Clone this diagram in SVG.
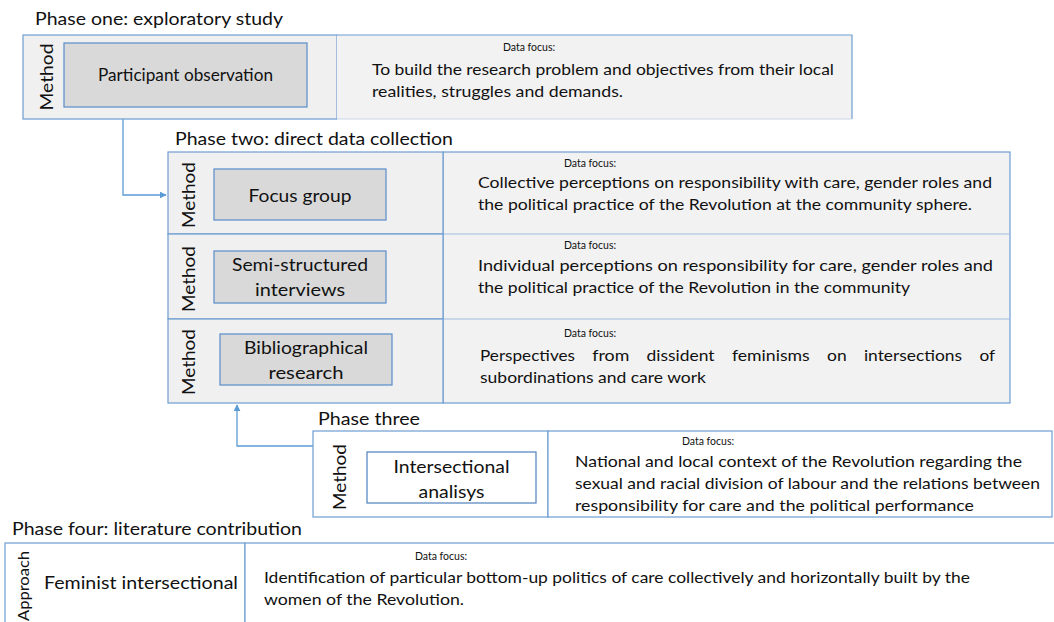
<svg xmlns="http://www.w3.org/2000/svg" width="1054" height="622" viewBox="0 0 1054 622">
<defs>
<marker id="arr" viewBox="0 0 10 10" refX="9" refY="5" markerWidth="7" markerHeight="7" markerUnits="userSpaceOnUse" orient="auto"><path d="M0,0 L10,5 L0,10 z" fill="#5b9bd5"/></marker>
<style>
text{font-family:Lato,"Liberation Sans",sans-serif;fill:#111}
.title{font-size:18px}
.body{font-size:16px}
.small{font-size:10.5px;text-anchor:middle}
.lab{font-size:17px;text-anchor:middle}
.rot{font-size:17px;text-anchor:middle}
.cell{fill:#f0f0f0;stroke:#6f9dd3;stroke-width:1.2}
.cellw{fill:#fff;stroke:#6f9dd3;stroke-width:1.2}
.box{fill:#d9d9d9;stroke:#5a8cc8;stroke-width:1.2}
.boxw{fill:#fff;stroke:#4f7fbd;stroke-width:1.2}
.conn{fill:none;stroke:#5b9bd5;stroke-width:1.3}
</style>
</defs>
<rect width="1054" height="622" fill="#fff"/>

<g id="connectors">
<path class="conn" d="M78,118 H123 V195 H166" marker-end="url(#arr)"/>
<path class="conn" d="M313,446 H237 V405" marker-end="url(#arr)"/>
</g>

<g id="phase1">
<text class="title" x="35" y="25" textLength="248" lengthAdjust="spacingAndGlyphs">Phase one: exploratory study</text>
<rect class="cell" x="23" y="35" width="314" height="84"/>
<rect x="337" y="35" width="515" height="84" fill="#f2f2f2"/>
<path d="M337,35 H852 V119" fill="none" stroke="#6f9dd3" stroke-width="1.2"/>
<path d="M337,119 H852" fill="none" stroke="#c9d8ea" stroke-width="1.2"/>
<text class="rot" transform="translate(53,77) rotate(-90)" textLength="67" lengthAdjust="spacingAndGlyphs">Method</text>
<rect class="box" x="64" y="43" width="243" height="64"/>
<text class="lab" x="185.5" y="81" textLength="175" lengthAdjust="spacingAndGlyphs">Participant observation</text>
<text class="small" x="529" y="51">Data focus:</text>
<text class="body" x="372" y="75" textLength="462" lengthAdjust="spacingAndGlyphs">To build the research problem and objectives from their local</text>
<text class="body" x="372" y="97" textLength="251" lengthAdjust="spacingAndGlyphs">realities, struggles and demands.</text>
</g>

<g id="phase2">
<text class="title" x="175" y="145" textLength="278" lengthAdjust="spacingAndGlyphs">Phase two: direct data collection</text>
<rect x="443" y="152" width="567" height="251" fill="#f2f2f2" stroke="#6f9dd3" stroke-width="1.2"/>
<path d="M443,234 H1010 M443,319 H1010" stroke="#9dbbe0" stroke-width="1.2"/>
<rect class="cell" x="168" y="152" width="275" height="82"/>
<rect class="cell" x="168" y="234" width="275" height="85"/>
<rect class="cell" x="168" y="319" width="275" height="84"/>
<text class="rot" transform="translate(195,195) rotate(-90)" textLength="66" lengthAdjust="spacingAndGlyphs">Method</text>
<text class="rot" transform="translate(195,279) rotate(-90)" textLength="66" lengthAdjust="spacingAndGlyphs">Method</text>
<text class="rot" transform="translate(195,362) rotate(-90)" textLength="66" lengthAdjust="spacingAndGlyphs">Method</text>
<rect class="box" x="214" y="169" width="172" height="51"/>
<rect class="box" x="214" y="251" width="172" height="52"/>
<rect class="box" x="220" y="334" width="172" height="51"/>
<text class="lab" x="300" y="202" textLength="103" lengthAdjust="spacingAndGlyphs">Focus group</text>
<text class="lab" x="300" y="271" textLength="136" lengthAdjust="spacingAndGlyphs">Semi-structured</text>
<text class="lab" x="300" y="296" textLength="90" lengthAdjust="spacingAndGlyphs">interviews</text>
<text class="lab" x="306" y="354" textLength="124" lengthAdjust="spacingAndGlyphs">Bibliographical</text>
<text class="lab" x="306" y="379" textLength="75" lengthAdjust="spacingAndGlyphs">research</text>
<text class="small" x="590" y="167">Data focus:</text>
<text class="body" x="478" y="188" textLength="514" lengthAdjust="spacingAndGlyphs">Collective perceptions on responsibility with care, gender roles and</text>
<text class="body" x="478" y="210" textLength="494" lengthAdjust="spacingAndGlyphs">the political practice of the Revolution at the community sphere.</text>
<text class="small" x="590" y="249">Data focus:</text>
<text class="body" x="478" y="271" textLength="515" lengthAdjust="spacingAndGlyphs">Individual perceptions on responsibility for care, gender roles and</text>
<text class="body" x="478" y="293" textLength="432" lengthAdjust="spacingAndGlyphs">the political practice of the Revolution in the community</text>
<text class="small" x="590" y="337">Data focus:</text>
<text class="body" x="480" y="361" textLength="95" lengthAdjust="spacingAndGlyphs">Perspectives</text>
<text class="body" x="592.3" y="361" textLength="37" lengthAdjust="spacingAndGlyphs">from</text>
<text class="body" x="646.6" y="361" textLength="68" lengthAdjust="spacingAndGlyphs">dissident</text>
<text class="body" x="731.9" y="361" textLength="77.8" lengthAdjust="spacingAndGlyphs">feminisms</text>
<text class="body" x="827" y="361" textLength="19.6" lengthAdjust="spacingAndGlyphs">on</text>
<text class="body" x="863.9" y="361" textLength="98.2" lengthAdjust="spacingAndGlyphs">intersections</text>
<text class="body" x="979.4" y="361" textLength="15.6" lengthAdjust="spacingAndGlyphs">of</text>
<text class="body" x="480" y="383" textLength="226" lengthAdjust="spacingAndGlyphs">subordinations and care work</text>
</g>

<g id="phase3">
<text class="title" x="318" y="425" textLength="102" lengthAdjust="spacingAndGlyphs">Phase three</text>
<rect class="cellw" x="313" y="431" width="235" height="86"/>
<rect class="cellw" x="548" y="431" width="504" height="86"/>
<text class="rot" transform="translate(346,477) rotate(-90)" textLength="66" lengthAdjust="spacingAndGlyphs">Method</text>
<rect class="boxw" x="367" y="452" width="169" height="51"/>
<text class="lab" x="451.5" y="473" textLength="116" lengthAdjust="spacingAndGlyphs">Intersectional</text>
<text class="lab" x="451.5" y="498" textLength="66" lengthAdjust="spacingAndGlyphs">analisys</text>
<text class="small" x="708" y="445">Data focus:</text>
<text class="body" x="575" y="467" textLength="447" lengthAdjust="spacingAndGlyphs">National and local context of the Revolution regarding the</text>
<text class="body" x="575" y="489" textLength="465" lengthAdjust="spacingAndGlyphs">sexual and racial division of labour and the relations between</text>
<text class="body" x="575" y="511" textLength="399" lengthAdjust="spacingAndGlyphs">responsibility for care and the political performance</text>
</g>

<g id="phase4">
<text class="title" x="12" y="535" textLength="290" lengthAdjust="spacingAndGlyphs">Phase four: literature contribution</text>
<rect class="cellw" x="5" y="543" width="240" height="90"/>
<rect class="cellw" x="245" y="543" width="815" height="90"/>
<text class="rot" style="font-size:16px" transform="translate(29,586) rotate(-90)" textLength="70" lengthAdjust="spacingAndGlyphs">Approach</text>
<text class="lab" x="141" y="589" textLength="194" lengthAdjust="spacingAndGlyphs">Feminist intersectional</text>
<text class="small" x="441" y="560">Data focus:</text>
<text class="body" x="264" y="583" textLength="706" lengthAdjust="spacingAndGlyphs">Identification of particular bottom-up politics of care collectively and horizontally built by the</text>
<text class="body" x="264" y="605" textLength="200" lengthAdjust="spacingAndGlyphs">women of the Revolution.</text>
</g>
</svg>
